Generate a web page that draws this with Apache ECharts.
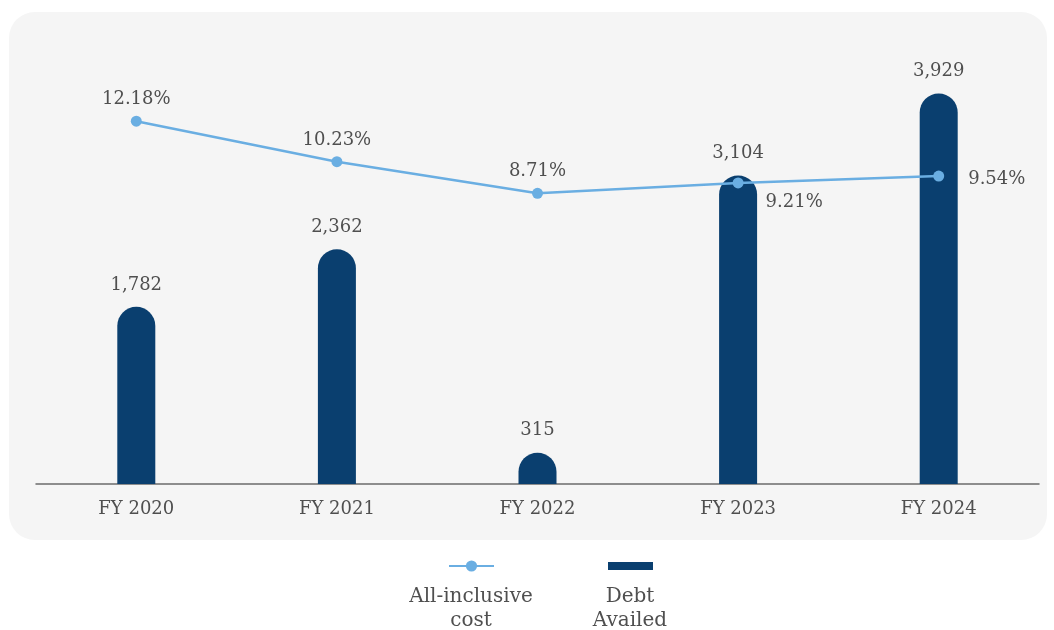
<!DOCTYPE html>
<html>
<head>
<meta charset="utf-8">
<script src="https://cdn.jsdelivr.net/npm/echarts@6/dist/echarts.min.js"></script>
<style>
  html, body { margin: 0; padding: 0; background: #ffffff; }
  #chart { width: 1054px; height: 630px; }
</style>
</head>
<body>
<div id="chart"></div>
<script>
// Fiscal years on the category axis
const years = ['FY 2020', 'FY 2021', 'FY 2022', 'FY 2023', 'FY 2024'];
// Debt availed (bars)
const debtAvailed = [1782, 2362, 315, 3104, 3929];
// All-inclusive cost, % (line)
const allInclusiveCost = [12.18, 10.23, 8.71, 9.21, 9.54];

const barName = 'Debt Availed';
const lineName = 'All-inclusive cost';

const BAR_COLOR = '#0a3f6f';
const LINE_COLOR = '#6aaee2';
const TEXT_COLOR = '#4f4f4f';
const FONT = '"DejaVu Serif", "Liberation Serif", serif';

const fmtInt = v => v.toLocaleString('en-US');
const fmtPct = v => v.toFixed(2) + '%';

// per-point placement of the cost labels
const lineLabelPos = [
  { position: 'top', distance: 7 },
  { position: 'top', distance: 7 },
  { position: 'top', distance: 7 },
  { position: 'right', distance: 22, offset: [0, 19] },
  { position: 'right', distance: 24, offset: [0, 3] }
];

const chart = echarts.init(document.getElementById('chart'), null, { renderer: 'canvas' });

chart.setOption({
  animation: false,
  backgroundColor: '#ffffff',
  textStyle: { fontFamily: FONT },
  graphic: [
    {
      type: 'rect',
      z: -100,
      silent: true,
      shape: { x: 9, y: 12, width: 1038, height: 528, r: 26 },
      style: { fill: '#f5f5f5' }
    },
    {
      type: 'text',
      left: 407, top: 585,
      style: {
        text: 'All-inclusive\ncost',
        font: '20px ' + FONT,
        fill: TEXT_COLOR,
        textAlign: 'center',
        lineHeight: 24,
        width: 128
      }
    },
    {
      type: 'text',
      left: 566, top: 585,
      style: {
        text: 'Debt\nAvailed',
        font: '20px ' + FONT,
        fill: TEXT_COLOR,
        textAlign: 'center',
        lineHeight: 24,
        width: 128
      }
    }
  ],
  legend: [
    {
      data: [lineName],
      left: 448, top: 559,
      itemWidth: 45, itemHeight: 14,
      formatter: () => '',
      selectedMode: false,
      padding: 0
    },
    {
      data: [barName],
      icon: 'rect',
      left: 608, top: 562,
      itemWidth: 45, itemHeight: 8,
      formatter: () => '',
      selectedMode: false,
      padding: 0
    }
  ],
  grid: { left: 36, right: 15, top: 70, bottom: 146 },
  xAxis: {
    type: 'category',
    data: years,
    boundaryGap: true,
    axisLine: { show: true, lineStyle: { color: '#6b6b6b', width: 1.5 } },
    axisTick: { show: false },
    axisLabel: { color: TEXT_COLOR, fontSize: 18, fontFamily: FONT, margin: 16 }
  },
  yAxis: [
    { type: 'value', min: 0, max: 4165, show: false, splitLine: { show: false } },
    { type: 'value', min: -5.27, max: 14.64, show: false, splitLine: { show: false } }
  ],
  series: [
    {
      name: barName,
      type: 'bar',
      yAxisIndex: 0,
      data: debtAvailed,
      barWidth: 38,
      itemStyle: { color: BAR_COLOR, borderRadius: [19, 19, 0, 0] },
      label: {
        show: true,
        position: 'top',
        distance: 13,
        color: TEXT_COLOR,
        fontSize: 18,
        fontFamily: FONT,
        formatter: p => fmtInt(p.value)
      },
      z: 2
    },
    {
      name: lineName,
      type: 'line',
      yAxisIndex: 1,
      data: allInclusiveCost.map((v, i) => ({ value: v, label: lineLabelPos[i] })),
      symbol: 'circle',
      symbolSize: 11,
      lineStyle: { color: LINE_COLOR, width: 2.5 },
      itemStyle: { color: LINE_COLOR },
      label: {
        show: true,
        color: TEXT_COLOR,
        fontSize: 18,
        fontFamily: FONT,
        formatter: p => fmtPct(p.value)
      },
      z: 3
    }
  ]
});
</script>
</body>
</html>
